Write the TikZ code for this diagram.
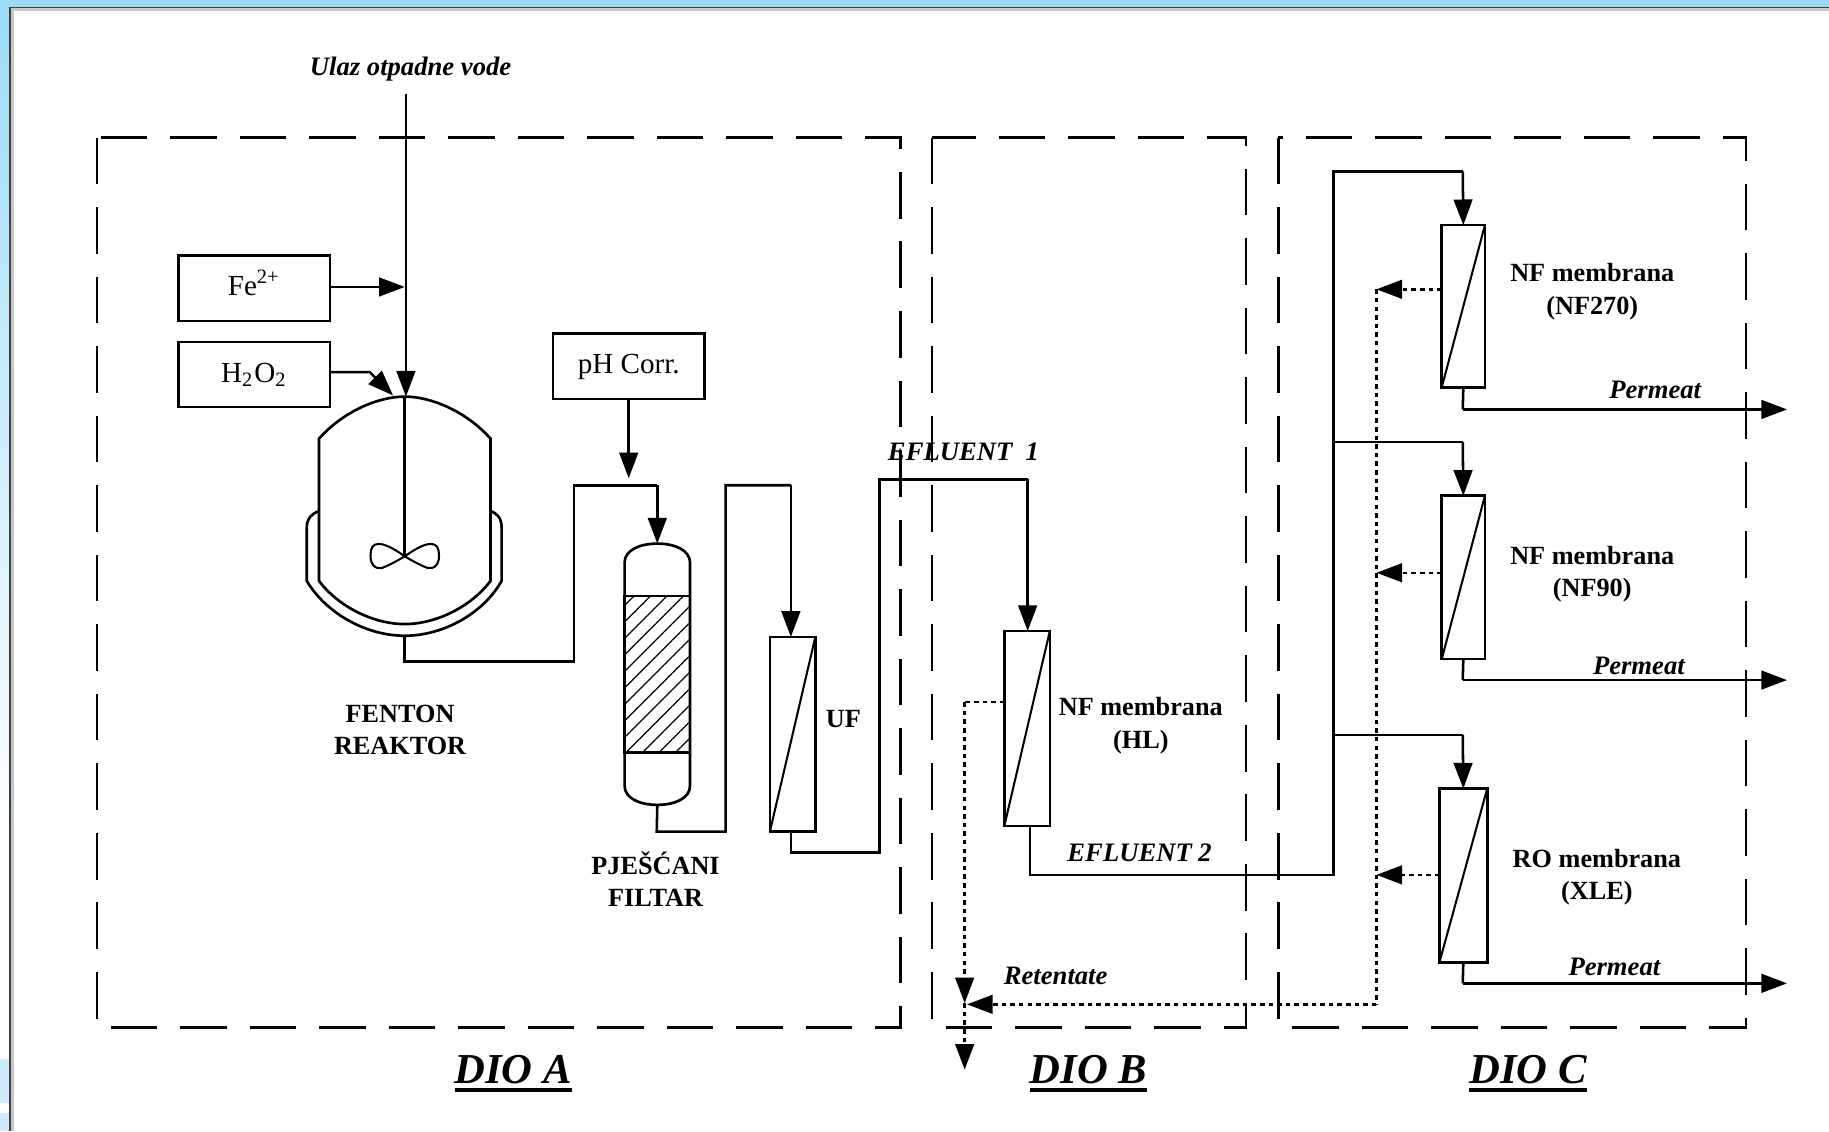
\documentclass[tikz,border=0pt]{standalone}
\usepackage{fontspec}
\setmainfont{Liberation Serif}
\usetikzlibrary{arrows.meta,patterns.meta}
\definecolor{nebo}{RGB}{154,220,248}
\definecolor{nebomrlja}{RGB}{205,235,250}
\newcommand{\dionaslov}[1]{\setbox0=\hbox{#1}\rlap{\rule[-2.1pt]{\wd0}{1.1pt}}\box0}
\tikzset{
  pipe/.style={line width=.62pt},
  pipearrow/.style={pipe,-{Triangle[length=2.2mm,width=1.6mm]}},
  retentat/.style={line width=.6pt,dash pattern=on 1.1pt off 1pt},
  retarrow/.style={retentat,-{Triangle[length=2.2mm,width=1.6mm]}},
  okvir/.style={line width=.62pt,dash pattern=on 4mm off 1.96mm},
  dodatak/.style={draw,line width=.62pt,minimum width=1.3cm,minimum height=.56cm,inner sep=0pt,outer sep=0pt,text height=1.3mm,text depth=0pt,font=\fontsize{7.1}{8}\selectfont},
  membrana/.style={draw,line width=.62pt,inner sep=0pt,outer sep=0pt},
  oznaka/.style={font=\fontsize{6.4}{7.9}\selectfont\bfseries,align=center,inner sep=0pt},
  tok/.style={font=\fontsize{6.5}{8}\selectfont\bfseries\itshape,inner sep=0pt},
  dio/.style={font=\fontsize{10.4}{12}\selectfont\bfseries\itshape,inner sep=0pt}
}
\begin{document}
\begin{tikzpicture}[y=-1cm]
\useasboundingbox (0,0) rectangle (15.68,9.696);

\fill[white] (0,0) rectangle (15.68,9.696);
\shade[top color=nebo,bottom color=white] (0,0) rectangle (.085,7.2);
\fill[nebomrlja] (0,9.08) rectangle (.085,9.46);
\fill[nebomrlja] (0,9.54) rectangle (.085,9.696);
\fill[nebo] (0,0) rectangle (15.68,.06);
\draw[line width=.7pt,black!22] (.105,9.696) -- (.105,.085) -- (15.68,.085);
\draw[line width=.4pt,black!75] (.085,9.696) -- (.085,.065) -- (15.68,.065);

\coordinate (A) at (.83,1.18);
\coordinate (B) at (.83,8.81);
\coordinate (C) at (7.72,8.81);
\coordinate (D) at (7.72,1.18);
\draw[okvir] (A) -- (B) -- (C) -- (D) -- cycle;

\coordinate (A) at (7.99,1.18);
\coordinate (B) at (7.99,8.81);
\coordinate (C) at (10.68,8.81);
\coordinate (D) at (10.68,1.18);
\draw[okvir] (A) -- (B) -- (C) -- (D) -- cycle;

\coordinate (A) at (10.96,1.18);
\coordinate (B) at (10.96,8.81);
\coordinate (C) at (14.97,8.81);
\coordinate (D) at (14.97,1.18);
\draw[okvir] (A) -- (B) -- (C) -- (D) -- cycle;

\node[dio] (dioa) at (4.40,9.205) {\dionaslov{DIO A}};
\node[dio] (diob) at (9.33,9.205) {\dionaslov{DIO B}};
\node[dio] (dioc) at (13.10,9.205) {\dionaslov{DIO C}};

\node[tok] (ulaz) at (3.52,.59) {Ulaz otpadne vode};
\node[dodatak] (fe) at (2.18,2.47) {Fe\textsuperscript{2+}};
\node[dodatak] (hdvao) at (2.18,3.21) {H\textsubscript{2}O\textsubscript{2}};
\node[dodatak] (ph) at (5.39,3.14) {pH Corr.};

\coordinate (ulazv) at (3.48,.81);
\coordinate (rtop) at (3.48,3.40);
\coordinate (ulazfe) at (3.47,2.46);
\coordinate (hlom) at (3.17,3.19);
\coordinate (hvrh) at (3.37,3.39);
\draw[pipearrow] (ulazv) -- (rtop);
\draw[pipearrow] (fe.east |- ulazfe) -- (ulazfe);
\draw[pipearrow] (hdvao.east |- hlom) -- (hlom) -- (hvrh);

\draw[line width=.65pt] (2.735,4.98) -- (2.735,3.76) .. controls (2.95,3.52) and (3.25,3.40) .. (3.47,3.40)
  .. controls (3.69,3.40) and (3.99,3.52) .. (4.205,3.76) -- (4.205,4.98)
  .. controls (4.04,5.20) and (3.74,5.35) .. (3.47,5.35)
  .. controls (3.20,5.35) and (2.90,5.20) .. (2.735,4.98) -- cycle;
\draw[line width=.65pt] (2.735,4.38) .. controls (2.68,4.40) and (2.63,4.44) .. (2.63,4.52) -- (2.63,4.98)
  .. controls (2.79,5.25) and (3.13,5.45) .. (3.47,5.45)
  .. controls (3.81,5.45) and (4.15,5.25) .. (4.30,4.98) -- (4.30,4.52)
  .. controls (4.30,4.44) and (4.26,4.40) .. (4.205,4.38);
\coordinate (rsred) at (3.47,4.77);
\draw[pipe] (3.47,3.40) -- (rsred);
\draw[line width=.5pt] (rsred) .. controls (3.32,4.66) and (3.20,4.62) .. (3.18,4.72)
  .. controls (3.16,4.84) and (3.22,4.88) .. (3.27,4.87) .. controls (3.33,4.85) and (3.40,4.81) .. (rsred)
  .. controls (3.62,4.66) and (3.74,4.62) .. (3.76,4.72)
  .. controls (3.78,4.84) and (3.72,4.88) .. (3.67,4.87) .. controls (3.61,4.85) and (3.54,4.81) .. (rsred);
\coordinate (rdno) at (3.47,5.45);
\node[oznaka] (reaktor) at (3.43,6.26) {FENTON\\REAKTOR};

\coordinate (ftop) at (5.635,4.66);
\coordinate (fdno) at (5.635,6.90);
\draw[line width=.65pt] (5.355,4.82) .. controls (5.355,4.72) and (5.48,4.66) .. (ftop)
  .. controls (5.79,4.66) and (5.915,4.72) .. (5.915,4.82) -- (5.915,6.74)
  .. controls (5.915,6.84) and (5.79,6.90) .. (fdno)
  .. controls (5.48,6.90) and (5.355,6.84) .. (5.355,6.74) -- cycle;
\draw[line width=.65pt,pattern={Lines[angle=45,distance=1mm,line width=.3pt]}] (5.355,5.11) rectangle (5.915,6.45);
\node[oznaka] (filtar) at (5.62,7.535) {PJEŠĆANI\\FILTAR};

\coordinate (P1) at (3.47,5.67);
\coordinate (P2) at (4.92,5.67);
\coordinate (P3) at (4.92,4.16);
\coordinate (P4) at (5.635,4.16);
\coordinate (Pu) at (5.39,4.10);
\draw[pipe] (rdno) -- (P1) -- (P2) -- (P3) -- (P4);
\draw[pipearrow] (P4) -- (ftop);
\draw[pipearrow] (ph.south) -- (Pu);

\node[membrana,minimum width=.39cm,minimum height=1.67cm] (uf) at (6.795,6.295) {};
\draw[line width=.5pt] (uf.south west) -- (uf.north east);
\node[oznaka] (uflab) at (7.23,6.16) {UF};

\coordinate (P1) at (5.63,7.13);
\coordinate (P2) at (6.22,7.13);
\coordinate (P3) at (6.22,4.16);
\coordinate (P4) at (6.78,4.16);
\draw[pipe] (fdno) -- (P1) -- (P2) -- (P3) -- (P4);
\draw[pipearrow] (P4) -- (6.78,5.46);

\node[membrana,minimum width=.39cm,minimum height=1.67cm] (hl) at (8.805,6.245) {};
\draw[line width=.5pt] (hl.south west) -- (hl.north east);
\node[oznaka] (hllab) at (9.78,6.22) {NF membrana\\(HL)};

\coordinate (P1) at (6.78,7.31);
\coordinate (P2) at (7.54,7.31);
\coordinate (P3) at (7.54,4.11);
\coordinate (P4) at (8.81,4.11);
\draw[pipe] (6.78,7.13) -- (P1) -- (P2) -- (P3) -- (P4);
\draw[pipearrow] (P4) -- (8.81,5.41);
\node[tok] (ef1) at (8.26,3.87) {EFLUENT\ \ 1};

\node[membrana,minimum width=.37cm,minimum height=1.39cm] (nfa) at (12.545,2.625) {};
\draw[line width=.5pt] (nfa.south west) -- (nfa.north east);
\node[membrana,minimum width=.37cm,minimum height=1.40cm] (nfb) at (12.545,4.95) {};
\draw[line width=.5pt] (nfb.south west) -- (nfb.north east);
\node[membrana,minimum width=.41cm,minimum height=1.49cm] (ro) at (12.545,7.505) {};
\draw[line width=.5pt] (ro.south west) -- (ro.north east);
\node[oznaka] (nfalab) at (13.65,2.50) {NF membrana\\(NF270)};
\node[oznaka] (nfblab) at (13.65,4.92) {NF membrana\\(NF90)};
\node[oznaka] (rolab) at (13.69,7.52) {RO membrana\\(XLE)};

\coordinate (E1) at (8.83,7.50);
\coordinate (E2) at (11.43,7.50);
\coordinate (E3) at (11.43,1.47);
\coordinate (E4) at (12.54,1.47);
\draw[pipe] (8.83,7.08) -- (E1) -- (E2) -- (E3) -- (E4);
\draw[pipearrow] (E4) -- (nfa.north);
\node[tok] (ef2) at (9.77,7.31) {EFLUENT 2};

\coordinate (G1) at (11.43,3.79);
\coordinate (G2) at (12.54,3.79);
\draw[pipe] (G1) -- (G2);
\draw[pipearrow] (G2) -- (nfb.north);
\coordinate (G1) at (11.43,6.30);
\coordinate (G2) at (12.54,6.30);
\draw[pipe] (G1) -- (G2);
\draw[pipearrow] (G2) -- (ro.north);

\coordinate (K1) at (12.54,3.51);
\coordinate (K2) at (15.32,3.51);
\draw[pipe] (nfa.south) -- (K1);
\draw[pipearrow] (K1) -- (K2);
\node[tok] (pa) at (14.19,3.34) {Permeat};
\coordinate (K1) at (12.54,5.83);
\coordinate (K2) at (15.32,5.83);
\draw[pipe] (nfb.south) -- (K1);
\draw[pipearrow] (K1) -- (K2);
\node[tok] (pb) at (14.05,5.71) {Permeat};
\coordinate (K1) at (12.54,8.43);
\coordinate (K2) at (15.32,8.43);
\draw[pipe] (ro.south) -- (K1);
\draw[pipearrow] (K1) -- (K2);
\node[tok] (pc) at (13.84,8.29) {Permeat};

\coordinate (R1) at (11.80,2.48);
\coordinate (R2) at (11.80,4.91);
\coordinate (R3) at (11.80,7.50);
\coordinate (R4) at (11.80,8.61);
\coordinate (R5) at (8.29,8.61);
\coordinate (R6) at (8.27,6.02);
\coordinate (R7) at (8.27,8.60);
\coordinate (R8) at (8.27,9.17);
\draw[retarrow] (nfa.west |- R1) -- (R1);
\draw[retarrow] (nfb.west |- R2) -- (R2);
\draw[retarrow] (ro.west |- R3) -- (R3);
\draw[retentat] (R1) -- (R4);
\draw[retarrow] (R4) -- (R5);
\draw[retentat] (hl.west |- R6) -- (R6);
\draw[retarrow] (R6) -- (R7);
\draw[retarrow] (R7) -- (R8);
\node[tok] (ret) at (9.05,8.37) {Retentate};
\end{tikzpicture}
\end{document}
